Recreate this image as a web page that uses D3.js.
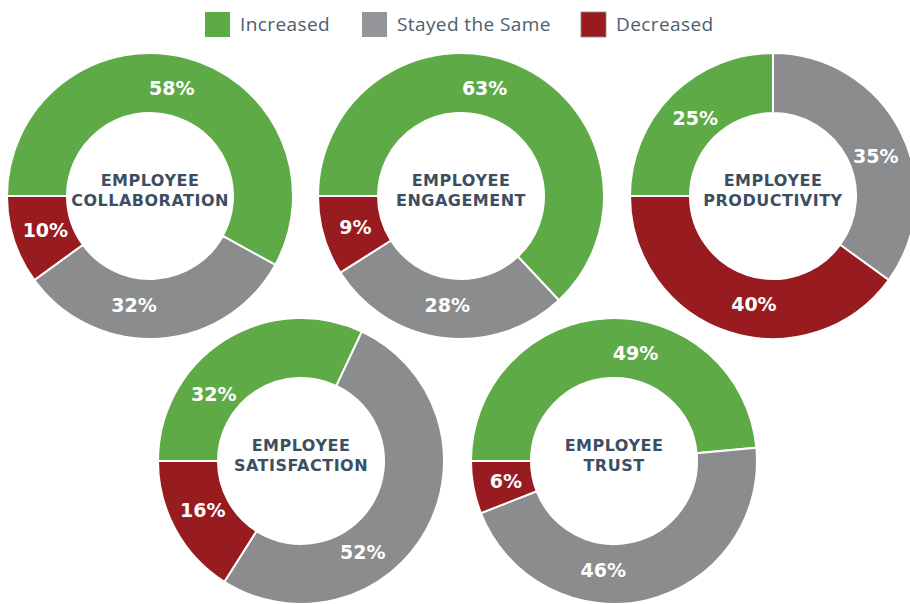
<!DOCTYPE html>
<meta charset="utf-8">
<html>
<head>
<style>
  body { margin: 0; background: #fff; }
  .legend text { font: 19px "Open Sans", sans-serif; fill: #4d5d6d; letter-spacing: 0.4px; }
  .pct { font: bold 19px "DejaVu Sans", sans-serif; fill: #fff; }
  .title { font: bold 16px "DejaVu Sans", sans-serif; fill: #3c4f62; letter-spacing: 0.5px; }
</style>
</head>
<body>
<svg width="910" height="604"></svg>
<script src="https://cdn.jsdelivr.net/npm/d3@7"></script>
<script>
// legend categories
var categories = ["Increased", "Stayed the Same", "Decreased"];
var colors = ["#5eaa46", "#8a8c8d", "#971b1f"];

// one donut per metric
var metrics = ["Collaboration", "Engagement", "Productivity", "Satisfaction", "Trust"];
var increased = [58, 63, 25, 32, 49];
var stayed = [32, 28, 35, 52, 46];
var decreased = [10, 9, 40, 16, 6];

var svg = d3.select("svg");

// legend
var legendX = [205, 362, 581];
var legend = svg.append("g").attr("class", "legend");
categories.forEach(function(c, i) {
  legend.append("rect")
    .attr("x", legendX[i]).attr("y", 12)
    .attr("width", 25).attr("height", 25)
    .attr("fill", i == 1 ? "#939598" : colors[i])
    .attr("stroke", i == 2 ? "#8a8c8d" : "none")
    .attr("stroke-width", 0.8);
  legend.append("text")
    .attr("x", legendX[i] + 35).attr("y", 31)
    .text(c);
});

// donut centres
var centres = [[150, 196], [461, 196], [773, 196], [301, 461], [614, 461]];
// label angle nudges (degrees) so the % labels sit like the original
var labelNudge = [[-3, 12, 0], [-11, 0, 0], [0, 6, -8], [-20, 27, 2], [14, 19, 0]];

var pie = d3.pie()
  .sort(null)
  .value(function(d) { return d; })
  .startAngle(-Math.PI / 2)
  .endAngle(Math.PI * 1.5);

var arc = d3.arc().innerRadius(83).outerRadius(143);
var labelArc = d3.arc().innerRadius(110).outerRadius(110);

metrics.forEach(function(m, i) {
  var vals = [increased[i], stayed[i], decreased[i]];
  var g = svg.append("g")
    .attr("transform", "translate(" + centres[i][0] + "," + centres[i][1] + ")");

  var slices = pie(vals);

  g.selectAll("path")
    .data(slices)
    .enter().append("path")
    .attr("d", arc)
    .attr("fill", function(d, j) { return colors[j]; })
    .attr("stroke", "#fff")
    .attr("stroke-width", 2);

  g.selectAll(".pct")
    .data(slices)
    .enter().append("text")
    .attr("class", "pct")
    .attr("transform", function(d, j) {
      var mid = (d.startAngle + d.endAngle) / 2 + labelNudge[i][j] * Math.PI / 180;
      return "translate(" + labelArc.centroid({startAngle: mid, endAngle: mid}) + ")";
    })
    .attr("text-anchor", "middle")
    .attr("dy", "0.36em")
    .text(function(d) { return d.data + "%"; });

  g.append("text").attr("class", "title")
    .attr("text-anchor", "middle").attr("y", -10)
    .text("EMPLOYEE");
  g.append("text").attr("class", "title")
    .attr("text-anchor", "middle").attr("y", 10)
    .text(m.toUpperCase());
});
</script>
</body>
</html>
